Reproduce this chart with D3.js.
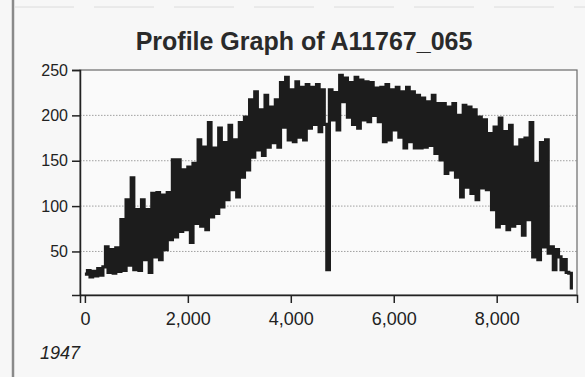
<!DOCTYPE html>
<html>
<head>
<meta charset="utf-8">
<script src="https://cdn.jsdelivr.net/npm/d3@7"></script>
<style>
  html, body { margin: 0; padding: 0; background: #f7f7f7; }
  svg { display: block; font-family: "Liberation Sans", Arial, sans-serif; }
</style>
</head>
<body>
<div id="chart"></div>
<script>
// profile samples, one every 50 m from 0 to 9450
const sampleStep = 50;
const elevation = [
  25, 29, 22, 28, 23, 31, 24, 33, 55, 27,
  52, 26, 54, 28, 85, 29, 107, 35, 131, 30,
  96, 29, 107, 41, 96, 27, 114, 44, 115, 41,
  112, 52, 115, 63, 151, 66, 151, 72, 140, 74,
  143, 60, 147, 81, 173, 78, 165, 74, 192, 88,
  164, 92, 186, 99, 170, 107, 189, 118, 173, 110,
  192, 132, 198, 140, 217, 154, 226, 162, 206, 156,
  222, 165, 209, 170, 217, 165, 236, 187, 242, 173,
  228, 171, 237, 176, 231, 173, 234, 186, 231, 190,
  234, 182, 228, 190, 30, 228, 195, 225, 184, 244,
  215, 241, 198, 236, 190, 242, 186, 239, 195, 237,
  193, 236, 200, 230, 193, 231, 171, 234, 173, 228,
  184, 231, 176, 226, 164, 231, 171, 226, 164, 222,
  164, 219, 165, 215, 167, 222, 158, 213, 151, 213,
  136, 209, 140, 213, 132, 200, 110, 211, 121, 209,
  114, 206, 107, 198, 120, 195, 118, 180, 96, 187,
  77, 197, 81, 182, 74, 189, 78, 165, 81, 173,
  68, 175, 85, 192, 44, 147, 41, 170, 55, 173,
  48, 55, 30, 52, 44, 30, 41, 27, 26, 8
];
const yTicks = [50, 100, 150, 200, 250];
const xTicks = [0, 2000, 4000, 6000, 8000];
const title = "Profile Graph of A11767_065";
const yearLabel = "1947";

const width = 585;
const height = 377;
const plot = { left: 80, right: 577, top: 70, bottom: 295 };

const svg = d3.select('#chart')
  .append('svg')
  .attr('width', width)
  .attr('height', height);

// edges of the scanned page
svg.append('line')
  .attr('x1', 13).attr('x2', 13).attr('y1', 0).attr('y2', height)
  .attr('stroke', '#8a8a8a').attr('stroke-width', 2.5);
svg.append('line')
  .attr('x1', 14).attr('x2', width).attr('y1', 7).attr('y2', 7)
  .attr('stroke', '#dcdcdc').attr('stroke-width', 1)
  .attr('stroke-dasharray', '60,20');

const x = d3.scaleLinear()
  .domain([-95, 9560])
  .range([plot.left, plot.right]);

const y = d3.scaleLinear()
  .domain([2, 250])
  .range([plot.bottom, plot.top]);

svg.append('rect')
  .attr('x', plot.left).attr('y', plot.top)
  .attr('width', plot.right - plot.left)
  .attr('height', plot.bottom - plot.top)
  .attr('fill', '#fafafa');

// dotted grid
svg.append('g')
  .selectAll('line')
  .data(yTicks.filter(d => d < 250))
  .enter()
  .append('line')
  .attr('x1', plot.left).attr('x2', plot.right)
  .attr('y1', d => y(d)).attr('y2', d => y(d))
  .attr('stroke', '#a0a0a0')
  .attr('stroke-width', 1)
  .attr('stroke-dasharray', '1.5,1.5');

const line = d3.line()
  .x((_, i) => x(i * sampleStep))
  .y(d => y(d))
  .curve(d3.curveStepAfter);

svg.append('path')
  .datum(elevation)
  .attr('fill', 'none')
  .attr('stroke', '#1c1c1c')
  .attr('stroke-width', 3.2)
  .attr('d', line);

// frame
svg.append('rect')
  .attr('x', plot.left).attr('y', plot.top)
  .attr('width', plot.right - plot.left)
  .attr('height', plot.bottom - plot.top)
  .attr('fill', 'none')
  .attr('stroke', '#6a6a6a')
  .attr('stroke-width', 1.2);

const yAxis = svg.append('g')
  .attr('transform', `translate(${plot.left},0)`)
  .call(d3.axisLeft(y).tickValues(yTicks).tickSize(8).tickPadding(4).tickFormat(d3.format('d')));

const xAxis = svg.append('g')
  .attr('transform', `translate(0,${plot.bottom})`)
  .call(d3.axisBottom(x).tickValues(xTicks).tickSize(8).tickPadding(9).tickFormat(d3.format(',')));

[yAxis, xAxis].forEach(a => {
  a.select('.domain').attr('stroke', '#222').attr('stroke-width', 1.5);
  a.selectAll('.tick line').attr('stroke', '#222').attr('stroke-width', 1.5);
  a.selectAll('.tick text')
    .attr('fill', '#222')
    .attr('font-family', '"Liberation Sans", Arial, sans-serif');
});
yAxis.selectAll('.tick text').attr('font-size', '16px');
xAxis.selectAll('.tick text').attr('font-size', '18px');

svg.append('text')
  .attr('x', 304)
  .attr('y', 50)
  .attr('text-anchor', 'middle')
  .attr('font-size', '25px')
  .attr('font-weight', 'bold')
  .attr('fill', '#2a2a2a')
  .text(title);

svg.append('text')
  .attr('x', 40)
  .attr('y', 359)
  .attr('font-size', '18px')
  .attr('font-style', 'italic')
  .attr('fill', '#222')
  .text(yearLabel);
</script>
</body>
</html>
